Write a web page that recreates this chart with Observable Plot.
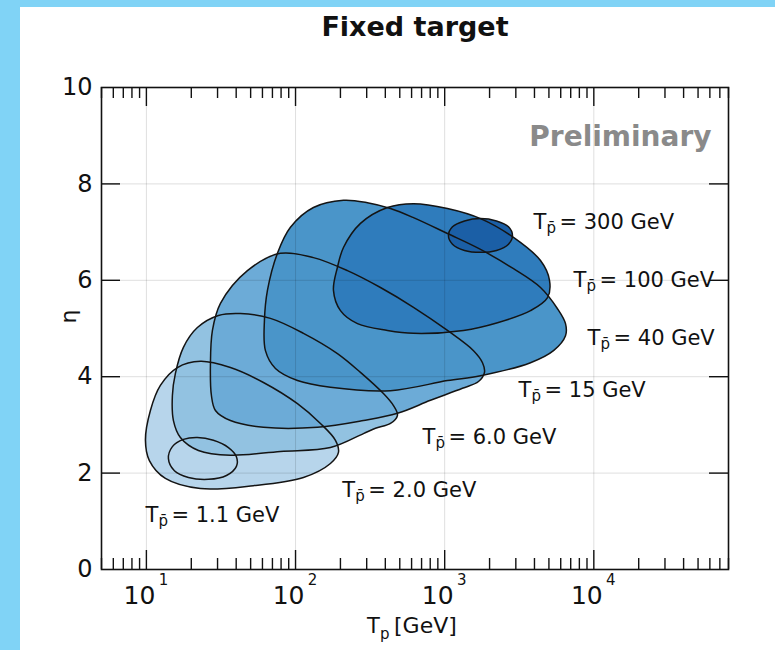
<!DOCTYPE html>
<html><head><meta charset="utf-8">
<script src="https://cdn.jsdelivr.net/npm/d3@7"></script>
<script src="https://cdn.jsdelivr.net/npm/@observablehq/plot@0.6"></script>
<style>
html,body{margin:0;padding:0;background:#80d3f6;width:775px;height:650px;overflow:hidden;}
#panel{position:absolute;left:20px;top:7px;width:755px;height:643px;background:#fff;}
#title{position:absolute;left:0;top:4px;width:790px;text-align:center;font:bold 27px "DejaVu Sans",sans-serif;line-height:32px;color:#111;}
#chart{position:absolute;left:0;top:48px;}
</style></head>
<body>
<div id="panel"><div id="title">Fixed target</div><div id="chart"></div></div>
<script>
// Contours of T_pbar in the (T_p, eta) plane
const tp11 = [14.05, 14.94, 17.71, 21.98, 28.15, 35.48, 40.14, 40.14, 34.41, 26.05, 19.13, 15.41];
const eta11 = [2.30, 2.55, 2.70, 2.74, 2.68, 2.53, 2.34, 2.14, 1.95, 1.87, 1.91, 2.05];

const tp20 = [9.85, 10.64, 12.41, 16.14, 23.02, 36.60, 60.92, 103.0, 146.9, 185.2, 194.0, 171.4, 113.0, 52.2, 23.02, 13.41, 10.47];
const eta20 = [2.68, 3.30, 3.82, 4.19, 4.32, 4.19, 3.88, 3.44, 3.03, 2.68, 2.43, 2.20, 1.91, 1.74, 1.68, 1.89, 2.26];

const tp60 = [15.18, 14.94, 15.65, 17.71, 21.98, 30.41, 42.70, 67.86, 113.0, 191.0, 272.5, 388.6, 453.6, 482.4, 433.0, 343.6, 285.4, 171.4, 79.19, 36.60, 22.33, 16.90];
const eta60 = [3.09, 3.61, 4.07, 4.61, 5.02, 5.27, 5.31, 5.21, 4.90, 4.48, 4.09, 3.65, 3.40, 3.20, 3.03, 2.93, 2.82, 2.53, 2.45, 2.37, 2.47, 2.74];

const tp15 = [27.29, 26.87, 27.72, 31.37, 47.58, 79.19, 131.8, 222.9, 371.0, 617.8, 1044, 1561, 1793, 1849, 1686, 1316, 803.3, 482.4, 285.4, 140.3, 60.92, 36.60, 29.03];
const eta15 = [3.61, 4.23, 4.96, 5.52, 6.20, 6.56, 6.47, 6.20, 5.85, 5.44, 4.96, 4.54, 4.29, 4.09, 3.90, 3.76, 3.51, 3.24, 3.09, 2.95, 2.95, 3.09, 3.30];

const tp40 = [62.84, 61.87, 64.81, 75.61, 92.43, 131.8, 209.6, 303.6, 433.0, 617.8, 1044, 1739, 2894, 4391, 5708, 6460, 6460, 5367, 3764, 1739, 1044, 433.0, 171.4, 103.0, 73.32];
const eta40 = [4.54, 5.17, 5.79, 6.56, 7.10, 7.51, 7.66, 7.61, 7.49, 7.30, 6.97, 6.64, 6.24, 5.85, 5.41, 5.10, 4.85, 4.54, 4.29, 4.02, 3.92, 3.71, 3.78, 3.92, 4.17];

const tp100 = [179.6, 191.0, 209.6, 272.5, 413.4, 617.8, 1044, 1739, 2894, 4391, 5046, 4893, 3764, 2261, 1337, 617.8, 413.4, 260.2, 200.1];
const eta100 = [5.79, 6.27, 6.68, 7.18, 7.51, 7.59, 7.49, 7.28, 6.89, 6.41, 6.00, 5.64, 5.37, 5.12, 4.96, 4.90, 4.96, 5.10, 5.37];

const tp300 = [1060, 1128, 1358, 1739, 2226, 2679, 2849, 2679, 2226, 1739, 1358, 1128];
const eta300 = [6.93, 7.11, 7.23, 7.28, 7.23, 7.11, 6.93, 6.75, 6.62, 6.58, 6.62, 6.75];

const labelText = ["300 GeV", "100 GeV", "40 GeV", "15 GeV", "6.0 GeV", "2.0 GeV", "1.1 GeV"];
const labelTp = [3940, 7310, 9073, 3126, 710, 206, 9.85];
const labelEta = [7.20, 6.00, 4.79, 3.71, 2.74, 1.64, 1.12];

const decades = [10, 100, 1000, 10000];
const yTicks = [0, 2, 4, 6, 8, 10];
const yInner = [2, 4, 6, 8];

const contours = [
  {tp: tp11, eta: eta11, fill: "#c6dcee"},
  {tp: tp20, eta: eta20, fill: "#b7d5eb"},
  {tp: tp60, eta: eta60, fill: "#92c2e1"},
  {tp: tp15, eta: eta15, fill: "#6cabd7"},
  {tp: tp40, eta: eta40, fill: "#4a95c9"},
  {tp: tp100, eta: eta100, fill: "#2f7cbc"},
  {tp: tp300, eta: eta300, fill: "#1b5fa6"}
];
const rowsOf = c => c.tp.map((x, i) => ({x, y: c.eta[i]}));

const minor = [];
for (const base of [1, 10, 100, 1000, 10000]) {
  for (let m = 2; m <= 9; m++) {
    const v = base * m;
    if (v >= 5 && v <= 80000) minor.push(v);
  }
}

const W = 627, H = 482;
const labels = labelText.map((t, i) => ({t, x: labelTp[i], y: labelEta[i]}));
const ink = "#111";

const chart = Plot.plot({
  width: 755, height: 595,
  marginLeft: 81, marginRight: 47, marginTop: 32, marginBottom: 81,
  style: {fontFamily: "DejaVu Sans, sans-serif", background: "transparent", color: ink},
  x: {type: "log", domain: [5, 80000], axis: null},
  y: {domain: [0, 10], axis: null},
  marks: [
    ...contours.map(c => Plot.line(rowsOf(c), {x: "x", y: "y", curve: "catmull-rom-closed", fill: c.fill, stroke: "none"})),
    Plot.ruleX(decades, {x: d => d, stroke: "#000", strokeOpacity: 0.13}),
    Plot.ruleY(yInner, {y: d => d, stroke: "#000", strokeOpacity: 0.13}),
    ...contours.map(c => Plot.line(rowsOf(c), {x: "x", y: "y", curve: "catmull-rom-closed", stroke: "#141414", strokeWidth: 1.5})),
    Plot.tickX(decades, {x: d => d, insetTop: H - 19, stroke: ink, strokeWidth: 1.4}),
    Plot.tickX(decades, {x: d => d, insetBottom: H - 19, stroke: ink, strokeWidth: 1.4}),
    Plot.tickX(minor, {x: d => d, insetTop: H - 11, stroke: ink, strokeWidth: 1.4}),
    Plot.tickX(minor, {x: d => d, insetBottom: H - 11, stroke: ink, strokeWidth: 1.4}),
    Plot.tickY(yInner, {y: d => d, insetRight: W - 19, stroke: ink, strokeWidth: 1.4}),
    Plot.tickY(yInner, {y: d => d, insetLeft: W - 19, stroke: ink, strokeWidth: 1.4}),
    Plot.frame({stroke: ink, strokeWidth: 1.6}),
    Plot.axisY(yTicks, {tickSize: 0, tickPadding: 9, fontSize: 24, label: null, tickFormat: d => String(d)}),
    Plot.text(decades, {x: d => d, text: () => "10", frameAnchor: "bottom", dy: 34, dx: -7, fontSize: 25, fill: ink}),
    Plot.text(decades, {x: d => d, text: d => String(Math.round(Math.log10(d))), frameAnchor: "bottom", dy: 15, dx: 17, fontSize: 15, fill: ink}),
    Plot.text(["T"], {frameAnchor: "bottom", dy: 63, dx: -48, textAnchor: "start", fontSize: 21, fill: ink}),
    Plot.text(["p"], {frameAnchor: "bottom", dy: 69, dx: -35, textAnchor: "start", fontSize: 15, fill: ink}),
    Plot.text(["[GeV]"], {frameAnchor: "bottom", dy: 63, dx: -21, textAnchor: "start", fontSize: 22, fill: ink}),
    Plot.text(["η"], {frameAnchor: "left", dx: -33, dy: -5, rotate: -90, fontSize: 22, fill: ink}),
    Plot.text(["Preliminary"], {frameAnchor: "top-right", dx: -17, dy: 39, textAnchor: "end", fontSize: 28, fontWeight: "bold", fill: "#8a8a8a"}),
    Plot.text(labels, {x: "x", y: "y", text: () => "T", textAnchor: "start", fontSize: 21, fill: ink}),
    Plot.text(labels, {x: "x", y: "y", text: () => "p\u0304", textAnchor: "start", dx: 13, dy: 6, fontSize: 15, fill: ink}),
    Plot.text(labels, {x: "x", y: "y", text: d => "= " + d.t, textAnchor: "start", dx: 26, fontSize: 21, fill: ink})
  ]
});
document.getElementById("chart").appendChild(chart);
</script>
</body></html>
